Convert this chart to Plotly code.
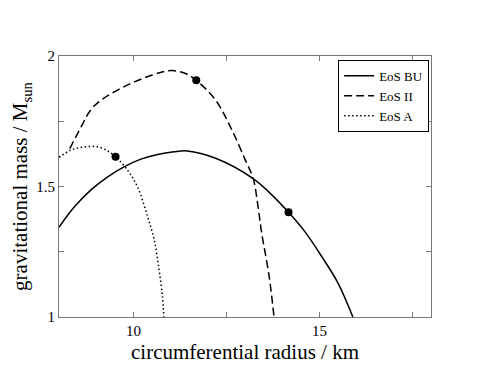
import plotly.graph_objects as go

# mass-radius curves (radius in km, mass in M_sun)
bu_r = [8.0, 8.42, 8.86, 9.31, 9.76, 10.20, 10.65, 11.09, 11.45, 12.21, 13.21, 13.72, 14.17, 14.61, 15.06, 15.50, 15.9]
bu_m = [1.344, 1.423, 1.487, 1.537, 1.576, 1.605, 1.623, 1.633, 1.636, 1.608, 1.531, 1.468, 1.401, 1.327, 1.232, 1.130, 1.0]

ii_r = [8.29, 8.60, 8.86, 9.17, 9.62, 10.06, 10.51, 10.8, 11.05, 11.4, 11.69, 12.21, 12.65, 13.01, 13.22, 13.35, 13.45, 13.65, 13.78]
ii_m = [1.645, 1.730, 1.795, 1.835, 1.873, 1.903, 1.927, 1.940, 1.944, 1.933, 1.907, 1.831, 1.716, 1.601, 1.531, 1.423, 1.321, 1.155, 1.0]

a_r = [8.0, 8.33, 8.69, 9.04, 9.31, 9.52, 9.84, 10.11, 10.38, 10.56, 10.69, 10.78, 10.82]
a_m = [1.612, 1.640, 1.652, 1.652, 1.636, 1.614, 1.563, 1.499, 1.385, 1.295, 1.181, 1.079, 1.0]

# marked stars
dot_r = [14.17, 11.69, 9.52]
dot_m = [1.401, 1.907, 1.614]

fig = go.Figure()
fig.add_trace(go.Scatter(x=bu_r, y=bu_m, mode='lines', name='EoS BU',
                         line=dict(color='black', width=1.5, shape='spline')))
fig.add_trace(go.Scatter(x=ii_r, y=ii_m, mode='lines', name='EoS II',
                         line=dict(color='black', width=1.5, shape='spline', dash='8px,4px')))
fig.add_trace(go.Scatter(x=a_r, y=a_m, mode='lines', name='EoS A',
                         line=dict(color='black', width=1.5, shape='spline', dash='1.5px,2.5px')))
fig.add_trace(go.Scatter(x=dot_r, y=dot_m, mode='markers', showlegend=False,
                         marker=dict(color='black', size=8)))

serif = 'Times New Roman'

axis_style = dict(showgrid=False, zeroline=False, showline=True, linecolor='#777',
                  linewidth=1, mirror='allticks', ticks='inside', ticklen=5,
                  tickcolor='#777', tickfont=dict(family=serif, size=15, color='black'))

fig.update_layout(
    width=477, height=366,
    margin=dict(l=48, r=54, t=48, b=57),
    paper_bgcolor='white', plot_bgcolor='white',
    font=dict(family=serif, color='black'),
    xaxis=dict(range=[8, 18], tickvals=[10, 15],
               minor=dict(tickvals=[12.5, 17.5], ticks='inside', ticklen=5, tickcolor='#777'),
               title=dict(text='circumferential radius / km', font=dict(family=serif, size=21), standoff=6),
               **axis_style),
    yaxis=dict(range=[1, 2], tickvals=[1, 1.5, 2], ticktext=['1', '1.5', '2'],
               minor=dict(tickvals=[1.25, 1.75], ticks='inside', ticklen=5, tickcolor='#777'),
               title=dict(text='gravitational mass / M<sub>sun</sub>', font=dict(family=serif, size=21), standoff=2),
               **axis_style),
    legend=dict(x=0.995, y=0.985, xanchor='right', yanchor='top',
                bordercolor='black', borderwidth=1, bgcolor='white',
                font=dict(family=serif, size=13), tracegroupgap=0, itemwidth=30),
    showlegend=True,
)

fig.write_html("out.html")
